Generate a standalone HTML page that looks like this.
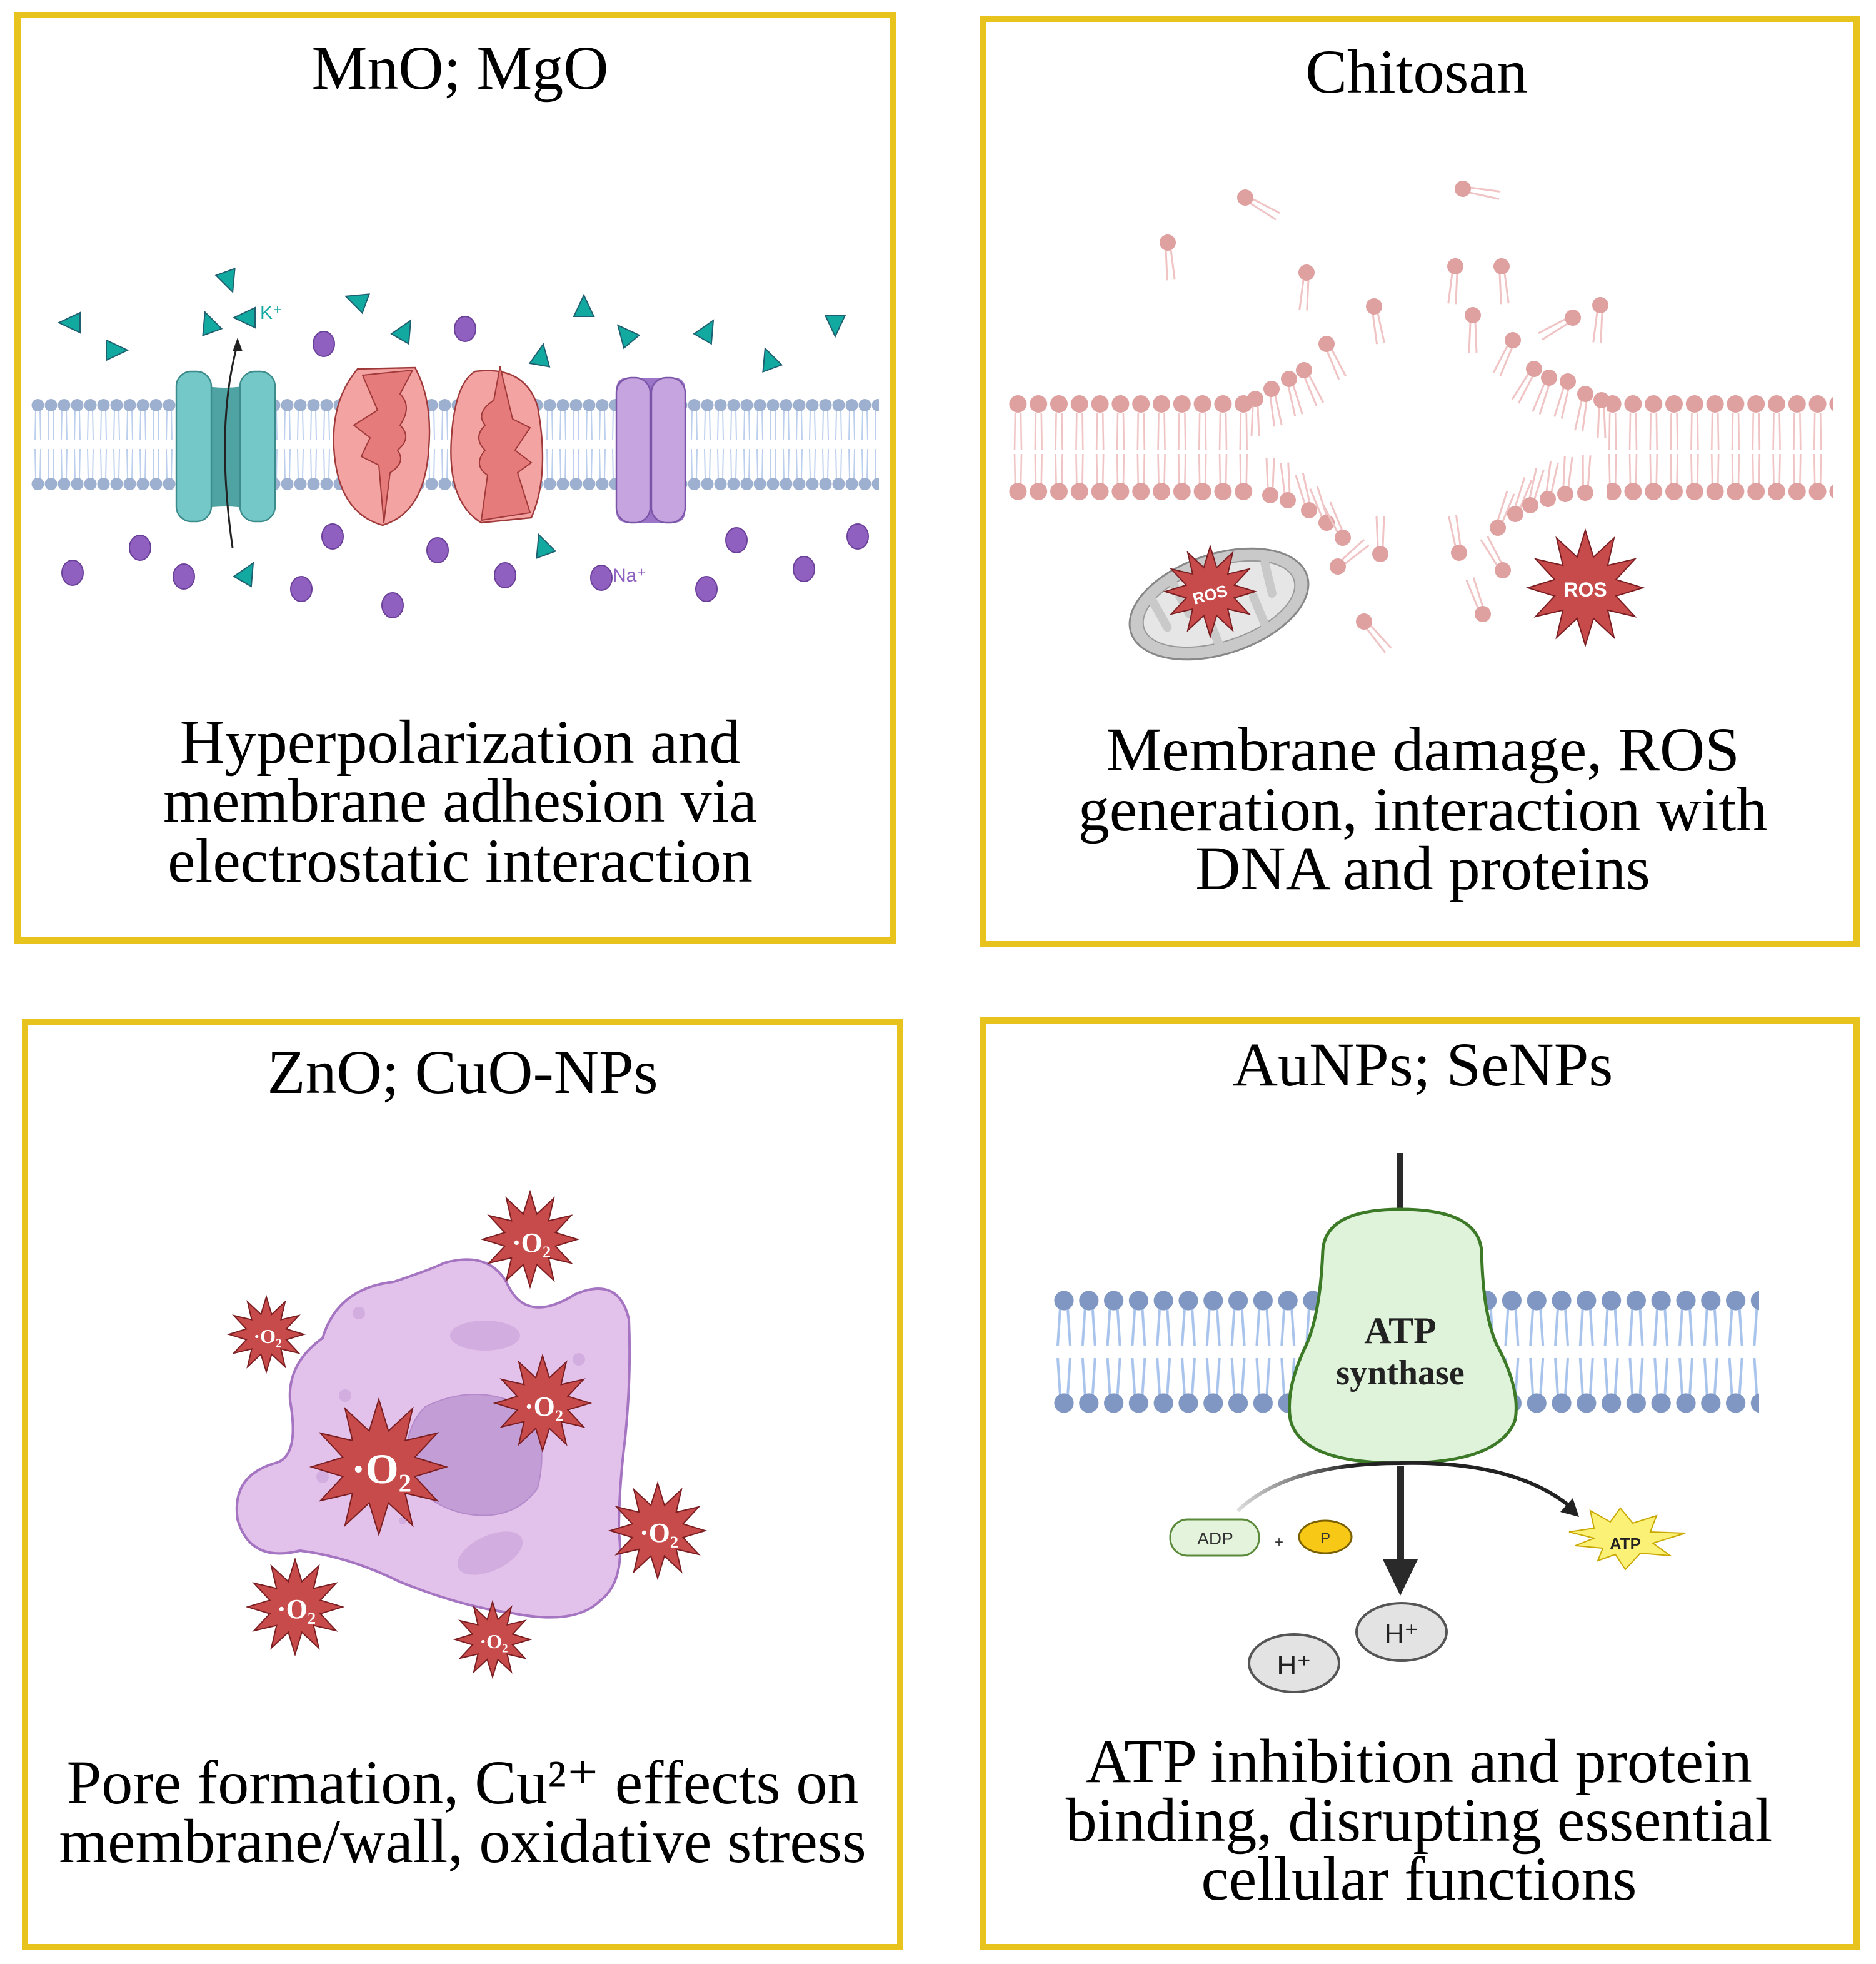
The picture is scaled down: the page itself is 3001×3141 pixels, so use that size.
<!DOCTYPE html>
<html><head><meta charset="utf-8"><style>
html,body{margin:0;padding:0;background:#fff}
svg{display:block}
text{font-family:"Liberation Serif",serif}
.s{font-family:"Liberation Sans",sans-serif}
</style></head><body>
<svg width="3001" height="3141" viewBox="0 0 1500.5 1570.5" xmlns="http://www.w3.org/2000/svg">
<defs>
<pattern id="m1" x="25" y="0" width="10.5" height="1570" patternUnits="userSpaceOnUse">
<path d="M3.5 328 L3 352 M7 328 L7.5 352 M3 359 L3.5 383 M7.5 359 L7 383" stroke="#BCD0EE" stroke-width="1" fill="none"/>
<circle cx="5.25" cy="324" r="5" fill="#9EB0D0"/><circle cx="5.25" cy="387" r="5" fill="#9EB0D0"/>
</pattern>
<pattern id="m4" x="841" y="0" width="19.9" height="1570" patternUnits="userSpaceOnUse">
<path d="M7 1046 L5 1076 M13 1046 L15 1076 M5 1086 L7 1116 M15 1086 L13 1116" stroke="#A9C4EC" stroke-width="2" fill="none"/>
<circle cx="10" cy="1040" r="7.8" fill="#7F97C2"/><circle cx="10" cy="1122" r="7.8" fill="#7F97C2"/>
</pattern>
<pattern id="m2" x="806" y="0" width="16.4" height="1570" patternUnits="userSpaceOnUse">
<path d="M6 330 L5.5 360 M10.5 330 L11 360 M5.5 363 L6 387 M11 363 L10.5 387" stroke="#F0C4C4" stroke-width="1.3" fill="none"/>
<circle cx="8.2" cy="323" r="7" fill="#DFA0A0"/><circle cx="8.2" cy="393" r="7" fill="#DFA0A0"/>
</pattern>
<polygon id="star" points="40,0 21.3,5.7 34.6,20 15.6,15.6 20,34.6 5.7,21.3 0,40 -5.7,21.3 -20,34.6 -15.6,15.6 -34.6,20 -21.3,5.7 -40,0 -21.3,-5.7 -34.6,-20 -15.6,-15.6 -20,-34.6 -5.7,-21.3 0,-40 5.7,-21.3 20,-34.6 15.6,-15.6 34.6,-20 21.3,-5.7" fill="#C84B4B" stroke="#7A1E22" stroke-width="2" vector-effect="non-scaling-stroke"/>
<polygon id="tri" points="-8,-8 9,0 -8,8" fill="#12A9A0" stroke="#1f5f70" stroke-width="1"/>
<ellipse id="dot" rx="8.5" ry="10" fill="#9060C0" stroke="#6a3f98" stroke-width="1"/>
<g id="lip"><path d="M-2 6 L-3 30 M2 6 L3 30" stroke="#F0C4C4" stroke-width="1.5" fill="none"/><circle r="6.5" fill="#DFA0A0"/></g>
</defs>

<g fill="none" stroke="#E8C31E" stroke-width="5">
<rect x="14" y="12" width="700" height="740"/>
<rect x="786" y="15" width="699" height="740"/>
<rect x="20" y="817" width="700" height="740"/>
<rect x="786" y="816" width="699" height="741"/>
</g>

<g font-size="50" text-anchor="middle" fill="#000">
<text x="368" y="71">MnO; MgO</text>
<text x="1133" y="74">Chitosan</text>
<text x="370" y="874">ZnO; CuO-NPs</text>
<text x="1138" y="868">AuNPs; SeNPs</text>
</g>
<g font-size="50" text-anchor="middle" fill="#000">
<text x="368" y="610">Hyperpolarization and</text>
<text x="368" y="657">membrane adhesion via</text>
<text x="368" y="705">electrostatic interaction</text>
<text x="1138" y="616">Membrane damage, ROS</text>
<text x="1138" y="664">generation, interaction with</text>
<text x="1138" y="711">DNA and proteins</text>
<text x="370" y="1442">Pore formation, Cu²⁺ effects on</text>
<text x="370" y="1489">membrane/wall, oxidative stress</text>
<text x="1135" y="1425">ATP inhibition and protein</text>
<text x="1135" y="1472">binding, disrupting essential</text>
<text x="1135" y="1519">cellular functions</text>
</g>

<!-- Box 1 -->
<rect x="25" y="317" width="678" height="77" fill="url(#m1)"/>
<g>
<path d="M142 302 Q180 318 218 302 L218 412 Q180 398 142 412 Z" fill="#4FA3A3"/>
<rect x="141" y="297" width="28" height="120" rx="12" fill="#74C8C8" stroke="#3d8c8c" stroke-width="1.2"/>
<rect x="192" y="297" width="28" height="120" rx="12" fill="#74C8C8" stroke="#3d8c8c" stroke-width="1.2"/>
<path d="M186 438 Q172 340 190 275" stroke="#222" stroke-width="1.5" fill="none"/>
<polygon points="190,270 186,281 194,281" fill="#222"/>
<path d="M286 295 L332 294 Q346 320 343 358 Q340 410 306 420 Q270 410 267 358 Q265 320 286 295Z" fill="#F4A3A3" stroke="#a03a3a" stroke-width="1.2"/>
<path d="M290 300 L302 328 L283 340 L296 350 L289 365 L303 372 L307 418 L312 378 Q325 370 318 360 Q330 350 320 340 Q330 325 320 315 L330 296Z" fill="#E67B7B" stroke="#a03a3a" stroke-width="1"/>
<path d="M380 297 Q420 292 430 325 Q440 380 425 414 L385 418 Q355 400 362 340 Q366 305 380 297Z" fill="#F4A3A3" stroke="#a03a3a" stroke-width="1.2"/>
<path d="M400 293 L395 320 Q380 330 388 340 Q378 350 388 360 Q378 372 390 380 L385 416 L424 410 L414 378 L425 370 L412 360 L424 342 L410 335Z" fill="#E67B7B" stroke="#a03a3a" stroke-width="1"/>
<rect x="493" y="302" width="55" height="116" rx="8" fill="#9C74C8"/>
<rect x="493" y="302" width="27" height="116" rx="12" fill="#C5A4DF" stroke="#7a55a8" stroke-width="1.2"/>
<rect x="521" y="302" width="27" height="116" rx="12" fill="#C5A4DF" stroke="#7a55a8" stroke-width="1.2"/>
</g>
<g>
<use href="#tri" transform="translate(56,258) rotate(180)"/>
<use href="#tri" transform="translate(93,280)"/>
<use href="#tri" transform="translate(183,225) rotate(70)"/>
<use href="#tri" transform="translate(167,258) rotate(-110)"/>
<use href="#tri" transform="translate(196,254) rotate(180)"/>
<use href="#tri" transform="translate(285,240) rotate(200)"/>
<use href="#tri" transform="translate(324,264) rotate(-60)"/>
<use href="#tri" transform="translate(433,284) rotate(-80)"/>
<use href="#tri" transform="translate(467,245) rotate(-90)"/>
<use href="#tri" transform="translate(500,267) rotate(230)"/>
<use href="#tri" transform="translate(566,264) rotate(-60)"/>
<use href="#tri" transform="translate(615,287) rotate(-110)"/>
<use href="#tri" transform="translate(668,260) rotate(90)"/>
<use href="#tri" transform="translate(198,458) rotate(-60)"/>
<use href="#tri" transform="translate(434,436) rotate(-110)"/>
<text x="208" y="255" class="s" font-size="15" fill="#12A9A0">K⁺</text>
<text x="490" y="465" class="s" font-size="15" fill="#9060C0">Na⁺</text>
<use href="#dot" x="58" y="458"/><use href="#dot" x="112" y="438"/><use href="#dot" x="147" y="461"/>
<use href="#dot" x="241" y="471"/><use href="#dot" x="266" y="429"/><use href="#dot" x="314" y="484"/>
<use href="#dot" x="259" y="275"/><use href="#dot" x="372" y="263"/><use href="#dot" x="350" y="440"/>
<use href="#dot" x="404" y="460"/><use href="#dot" x="481" y="462"/><use href="#dot" x="565" y="471"/>
<use href="#dot" x="589" y="432"/><use href="#dot" x="643" y="455"/><use href="#dot" x="686" y="429"/>
</g>

<!-- Box 2 -->
<rect x="806" y="314" width="196" height="87" fill="url(#m2)"/>
<rect x="1285" y="314" width="181" height="87" fill="url(#m2)"/>
<g>
<use href="#lip" transform="translate(1004,319)"/><use href="#lip" transform="translate(1017,311) rotate(-10)"/>
<use href="#lip" transform="translate(1031,303) rotate(-15)"/><use href="#lip" transform="translate(1043,296) rotate(-25)"/>
<use href="#lip" transform="translate(1061,275) rotate(-25)"/><use href="#lip" transform="translate(1099,245) rotate(-10)"/>
<use href="#lip" transform="translate(1045,218) rotate(5)"/><use href="#lip" transform="translate(934,194) rotate(-5)"/>
<use href="#lip" transform="translate(996,158) rotate(-60)"/><use href="#lip" transform="translate(1170,151) rotate(-80)"/>
<use href="#lip" transform="translate(1164,213) rotate(5)"/><use href="#lip" transform="translate(1201,213) rotate(-5)"/>
<use href="#lip" transform="translate(1178,252)"/><use href="#lip" transform="translate(1210,272) rotate(25)"/>
<use href="#lip" transform="translate(1258,254) rotate(60)"/><use href="#lip" transform="translate(1280,244) rotate(5)"/>
<use href="#lip" transform="translate(1227,295) rotate(30)"/><use href="#lip" transform="translate(1239,302) rotate(20)"/>
<use href="#lip" transform="translate(1254,305) rotate(15)"/><use href="#lip" transform="translate(1268,315) rotate(10)"/>
<use href="#lip" transform="translate(1281,320)"/>
<use href="#lip" transform="translate(1016,396) rotate(180)"/><use href="#lip" transform="translate(1030,400) rotate(175)"/>
<use href="#lip" transform="translate(1047,408) rotate(165)"/><use href="#lip" transform="translate(1061,418) rotate(160)"/>
<use href="#lip" transform="translate(1074,430) rotate(155)"/>
<use href="#lip" transform="translate(1070,453) rotate(-130)"/><use href="#lip" transform="translate(1104,443) rotate(180)"/>
<use href="#lip" transform="translate(1091,497) rotate(-40)"/>
<use href="#lip" transform="translate(1167,442) rotate(170)"/><use href="#lip" transform="translate(1202,456) rotate(150)"/>
<use href="#lip" transform="translate(1186,491) rotate(160)"/>
<use href="#lip" transform="translate(1198,422) rotate(200)"/><use href="#lip" transform="translate(1212,411) rotate(200)"/>
<use href="#lip" transform="translate(1224,404) rotate(195)"/><use href="#lip" transform="translate(1238,399) rotate(190)"/>
<use href="#lip" transform="translate(1252,395) rotate(185)"/><use href="#lip" transform="translate(1268,394) rotate(182)"/>
</g>
<g transform="translate(975,483) rotate(-18)">
<ellipse rx="74" ry="40" fill="#C9C9C9" stroke="#888" stroke-width="1.5"/>
<ellipse rx="63" ry="30" fill="#E6E6E6" stroke="#999" stroke-width="1"/>
<path d="M-50 -20 L-45 5 M-30 -28 L-25 0 M-10 30 L-12 0 M10 -30 L8 -3 M30 28 L28 3 M45 -20 L43 5" stroke="#C9C9C9" stroke-width="7" stroke-linecap="round"/>
</g>
<use href="#star" transform="translate(968,473) scale(0.9)"/>
<text x="968" y="480" class="s" font-size="13" font-weight="bold" fill="#fff" text-anchor="middle" transform="rotate(-15 968 476)">ROS</text>
<use href="#star" transform="translate(1268,470) scale(1.15)"/>
<text x="1268" y="477" class="s" font-size="16" font-weight="bold" fill="#fff" text-anchor="middle">ROS</text>

<!-- Box 3 -->
<path d="M258 1070 Q270 1030 315 1025 Q345 1015 355 1010 Q390 1000 405 1025 Q420 1060 460 1035 Q495 1020 503 1055 Q505 1100 500 1150 Q495 1190 495 1225 Q500 1265 480 1280 Q460 1300 410 1290 Q370 1285 320 1265 Q280 1245 240 1240 Q200 1250 190 1215 Q185 1180 220 1170 Q240 1165 232 1120 Q230 1090 258 1070Z" fill="#E2C2EA" stroke="#A575C2" stroke-width="2"/>
<path d="M340 1125 Q380 1105 420 1125 Q440 1150 430 1190 Q410 1218 370 1210 Q330 1200 325 1165 Q325 1140 340 1125Z" fill="#C39ED6" stroke="#B58ACB" stroke-width="1"/>
<g fill="#D2ADE0"><ellipse cx="388" cy="1068" rx="28" ry="12"/><ellipse cx="392" cy="1242" rx="28" ry="14" transform="rotate(-25 392 1242)"/>
<circle cx="287" cy="1050" r="5"/><circle cx="463" cy="1087" r="5"/><circle cx="276" cy="1116" r="5"/><circle cx="258" cy="1181" r="5"/><circle cx="322" cy="1216" r="3"/></g>
<use href="#star" transform="translate(303,1173) scale(1.35)"/>
<use href="#star" transform="translate(434,1122) scale(0.95)"/>
<use href="#star" transform="translate(424,991) scale(0.95)"/>
<use href="#star" transform="translate(213,1067) scale(0.75)"/>
<use href="#star" transform="translate(526,1224) scale(0.95)"/>
<use href="#star" transform="translate(236,1285) scale(0.95)"/>
<use href="#star" transform="translate(394,1311) scale(0.75)"/>
<g class="s" fill="#fff" font-weight="bold" text-anchor="middle">
<text x="305" y="1186" font-size="34">·O₂</text>
<text x="435" y="1132" font-size="22">·O₂</text>
<text x="425" y="1001" font-size="22">·O₂</text>
<text x="214" y="1074" font-size="16">·O₂</text>
<text x="527" y="1233" font-size="22">·O₂</text>
<text x="237" y="1294" font-size="22">·O₂</text>
<text x="395" y="1318" font-size="16">·O₂</text>
</g>

<!-- Box 4 -->
<rect x="841" y="1030" width="566" height="102" fill="url(#m4)"/>
<line x1="1120" y1="922" x2="1120" y2="968" stroke="#2a2a2a" stroke-width="5"/>
<path d="M1120 967 Q1060 967 1058 1000 Q1056 1050 1045 1075 Q1028 1110 1032 1135 Q1040 1170 1120 1170 Q1200 1170 1212 1135 Q1216 1110 1197 1075 Q1186 1050 1185 1000 Q1182 967 1120 967Z" fill="#DFF2DA" stroke="#3D7A27" stroke-width="2.5"/>
<text x="1120" y="1074" text-anchor="middle" font-size="30" font-weight="bold" fill="#222">ATP</text>
<text x="1120" y="1107" text-anchor="middle" font-size="28" font-weight="bold" fill="#222">synthase</text>
<defs><linearGradient id="g1" x1="0" x2="1"><stop offset="0" stop-color="#ddd"/><stop offset="0.35" stop-color="#222"/></linearGradient></defs>
<path d="M990 1208 Q1030 1170 1120 1170 Q1210 1168 1255 1204" stroke="url(#g1)" stroke-width="3" fill="none"/>
<polygon points="1263,1213 1248,1209 1258,1198" fill="#222"/>
<line x1="1120" y1="1172" x2="1120" y2="1250" stroke="#2a2a2a" stroke-width="6"/>
<polygon points="1106,1247 1134,1247 1120,1276" fill="#2a2a2a"/>
<rect x="936" y="1215" width="71" height="29" rx="14" fill="#E4F3DC" stroke="#5a8a3a" stroke-width="1.5"/>
<text x="972" y="1235" class="s" text-anchor="middle" font-size="14" fill="#333">ADP</text>
<text x="1023" y="1237" class="s" text-anchor="middle" font-size="12" fill="#333">+</text>
<ellipse cx="1060" cy="1229" rx="21" ry="13" fill="#F7C816" stroke="#7a6000" stroke-width="1.5"/>
<text x="1060" y="1234" class="s" text-anchor="middle" font-size="12" fill="#333">P</text>
<polygon points="1255,1225 1275,1222 1272,1208 1288,1217 1296,1206 1306,1218 1325,1212 1320,1225 1348,1226 1322,1234 1336,1244 1312,1242 1300,1255 1292,1243 1278,1248 1282,1238 1260,1236 1275,1230" fill="#FBF176" stroke="#c9a800" stroke-width="1"/>
<text x="1300" y="1239" class="s" text-anchor="middle" font-size="13" font-weight="bold" fill="#222">ATP</text>
<ellipse cx="1121" cy="1305" rx="36" ry="23" fill="#E3E3E3" stroke="#555" stroke-width="2"/>
<text x="1121" y="1314" class="s" text-anchor="middle" font-size="22" fill="#222">H⁺</text>
<ellipse cx="1035" cy="1330" rx="36" ry="23" fill="#E3E3E3" stroke="#555" stroke-width="2"/>
<text x="1035" y="1339" class="s" text-anchor="middle" font-size="22" fill="#222">H⁺</text>
</svg>
</body></html>
